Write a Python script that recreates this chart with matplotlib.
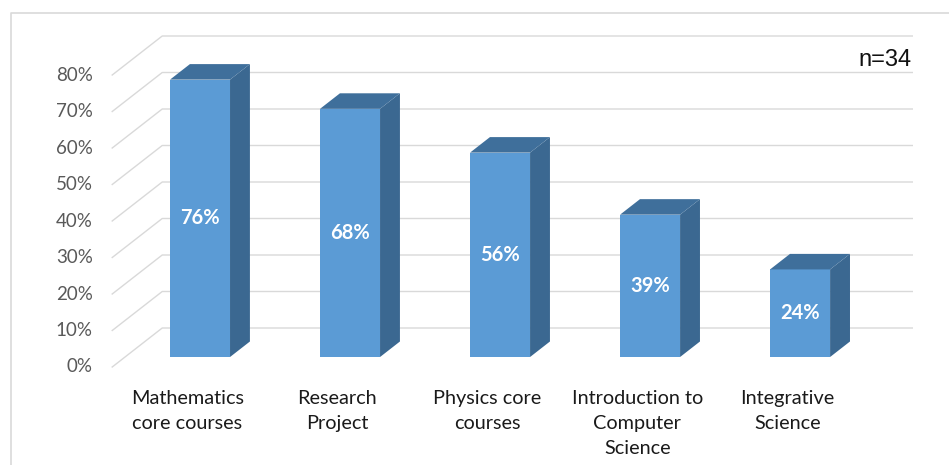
import matplotlib
matplotlib.use('Agg')
import matplotlib.pyplot as plt
from matplotlib.patches import Polygon
from matplotlib.lines import Line2D

# dane
categories = ['Mathematics\ncore courses', 'Research\nProject', 'Physics core\ncourses',
              'Introduction to\nComputer\nScience', 'Integrative\nScience']
values = [76, 68, 56, 39, 24]
yticks = [0, 10, 20, 30, 40, 50, 60, 70, 80]
note = 'n=34'

# kolory
FRONT = '#5B9BD5'
SIDE = '#3B6891'
TOP = '#3F6F9B'
GRID = '#D9D9D9'

# rzut ukosny: przesuniecie pelnej glebokosci w jednostkach danych
DX = 50 / 150.0
DY = 39 / 3.65
D_FRONT = 0.256
D_BACK = 0.654
HALF_W = 0.2

plt.rcParams['font.family'] = ['Lato', 'DejaVu Sans']

fig = plt.figure(figsize=(9.49, 4.65), dpi=100)
ax = fig.add_axes([0, 0, 1, 1])
ax.set_xlim(-1.248, 5.078)
ax.set_ylim(-26.85, 100.55)
ax.axis('off')

# ramka wykresu
fig.add_artist(Line2D([10.5 / 949, 10.5 / 949, 1.0], [0.0, 1 - 13.5 / 465, 1 - 13.5 / 465],
                      transform=fig.transFigure, color=GRID, lw=1.2))

# siatka (podloga -> sciana)
x0 = -0.5
x1 = len(categories) - 0.5
for t in yticks:
    ax.plot([x0, x0 + DX, x1 + DX], [t, t + DY, t + DY], color=GRID, lw=1.0, zorder=1)
    ax.text(x0 - 0.13, t, f'{t}%', ha='right', va='center', fontsize=13.5, color='#595959')

# slupki 3D
for i, v in enumerate(values):
    fx = i + D_FRONT * DX
    fy = D_FRONT * DY
    bx = (D_BACK - D_FRONT) * DX
    by = (D_BACK - D_FRONT) * DY
    l, r = fx - HALF_W, fx + HALF_W
    front = Polygon([(l, fy), (r, fy), (r, fy + v), (l, fy + v)], closed=True,
                    facecolor=FRONT, edgecolor='none', zorder=3)
    side = Polygon([(r, fy), (r + bx, fy + by), (r + bx, fy + v + by), (r, fy + v)], closed=True,
                   facecolor=SIDE, edgecolor='none', zorder=3)
    top = Polygon([(l, fy + v), (r, fy + v), (r + bx, fy + v + by), (l + bx, fy + v + by)], closed=True,
                  facecolor=TOP, edgecolor='none', zorder=3)
    for p in (front, side, top):
        ax.add_patch(p)
    ax.text(fx, fy + v / 2, f'{v}%', ha='center', va='center', fontsize=14.5,
            fontweight='bold', color='white', zorder=4)
    ax.text(i, -6.2, categories[i], ha='center', va='top', fontsize=14.3,
            color='#1a1a1a', linespacing=1.58)

fig.text(912 / 949, 1 - 60 / 465, note, ha='right', va='center', fontsize=17,
         family=['Liberation Sans', 'DejaVu Sans'], color='#111111')

fig.savefig('out.png', dpi=100, facecolor='white')
